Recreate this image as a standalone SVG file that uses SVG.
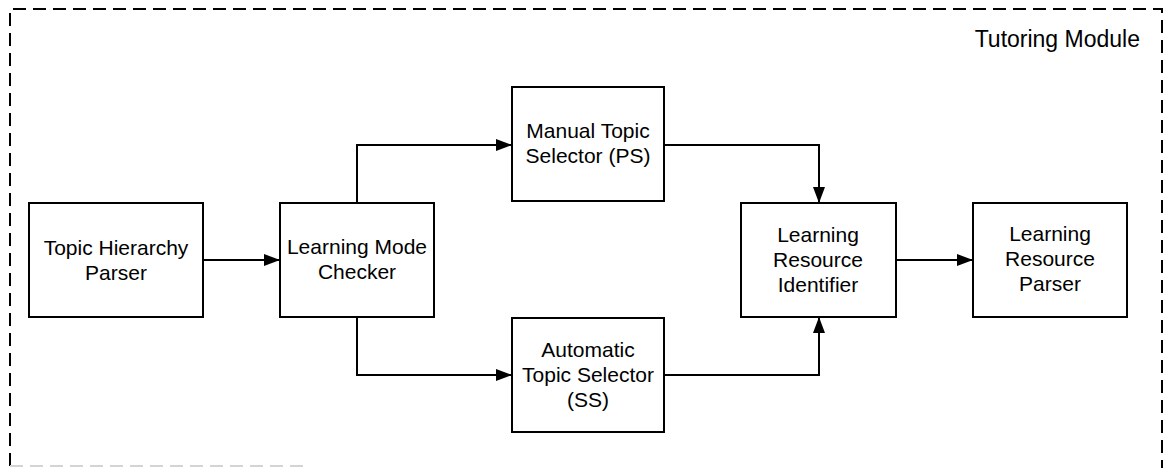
<svg xmlns="http://www.w3.org/2000/svg" width="1166" height="468" viewBox="0 0 1166 468">
  <style>
    .box { fill: #ffffff; stroke: #000000; stroke-width: 2; }
    .lbl { font-family: "Liberation Sans", Arial, sans-serif; font-size: 21px; fill: #000000; text-anchor: middle; }
    .title { font-family: "Liberation Sans", Arial, sans-serif; font-size: 23px; fill: #000000; text-anchor: end; }
    .edge { fill: none; stroke: #000000; stroke-width: 2; }
    .frame { fill: none; stroke: #000000; stroke-width: 2; stroke-dasharray: 13 7; }
    .frame-faint { fill: none; stroke: #d4d4d4; stroke-width: 2; stroke-dasharray: 13 7; }
  </style>
  <defs>
    <marker id="arrow" markerUnits="userSpaceOnUse" markerWidth="17" markerHeight="12" refX="16" refY="6" orient="auto">
      <path d="M0,0 L16,6 L0,12 Z" fill="#000000"/>
    </marker>
  </defs>

  <rect width="1166" height="468" fill="#ffffff"/>

  <!-- module frame -->
  <g id="module-frame">
    <path class="frame" d="M10,466 L10,9 L1162,9 L1162,468"/>
    <path class="frame-faint" d="M10,466 L310,466"/>
    <text class="title" x="1140" y="47">Tutoring Module</text>
  </g>

  <!-- connectors -->
  <g id="connectors">
    <path class="edge" d="M203,260 L280,260" marker-end="url(#arrow)"/>
    <path class="edge" d="M357,203 L357,145 L512,145" marker-end="url(#arrow)"/>
    <path class="edge" d="M357,317 L357,375 L512,375" marker-end="url(#arrow)"/>
    <path class="edge" d="M664,145 L819,145 L819,203" marker-end="url(#arrow)"/>
    <path class="edge" d="M664,375 L819,375 L819,317" marker-end="url(#arrow)"/>
    <path class="edge" d="M896,260 L973,260" marker-end="url(#arrow)"/>
  </g>

  <g id="topic-hierarchy-parser">
    <rect class="box" x="29" y="203" width="174" height="114"/>
    <text class="lbl" x="116" y="255">Topic Hierarchy</text>
    <text class="lbl" x="116" y="280">Parser</text>
  </g>

  <g id="learning-mode-checker">
    <rect class="box" x="280" y="203" width="154" height="114"/>
    <text class="lbl" x="357" y="254">Learning Mode</text>
    <text class="lbl" x="357" y="279">Checker</text>
  </g>

  <g id="manual-topic-selector">
    <rect class="box" x="512" y="87" width="152" height="114"/>
    <text class="lbl" x="588" y="138">Manual Topic</text>
    <text class="lbl" x="588" y="163">Selector (PS)</text>
  </g>

  <g id="automatic-topic-selector">
    <rect class="box" x="512" y="318" width="152" height="114"/>
    <text class="lbl" x="588" y="357">Automatic</text>
    <text class="lbl" x="588" y="382">Topic Selector</text>
    <text class="lbl" x="588" y="407">(SS)</text>
  </g>

  <g id="learning-resource-identifier">
    <rect class="box" x="741" y="203" width="155" height="114"/>
    <text class="lbl" x="818" y="242">Learning</text>
    <text class="lbl" x="818" y="267">Resource</text>
    <text class="lbl" x="818" y="292">Identifier</text>
  </g>

  <g id="learning-resource-parser">
    <rect class="box" x="973" y="203" width="154" height="114"/>
    <text class="lbl" x="1050" y="241">Learning</text>
    <text class="lbl" x="1050" y="266">Resource</text>
    <text class="lbl" x="1050" y="291">Parser</text>
  </g>
</svg>
